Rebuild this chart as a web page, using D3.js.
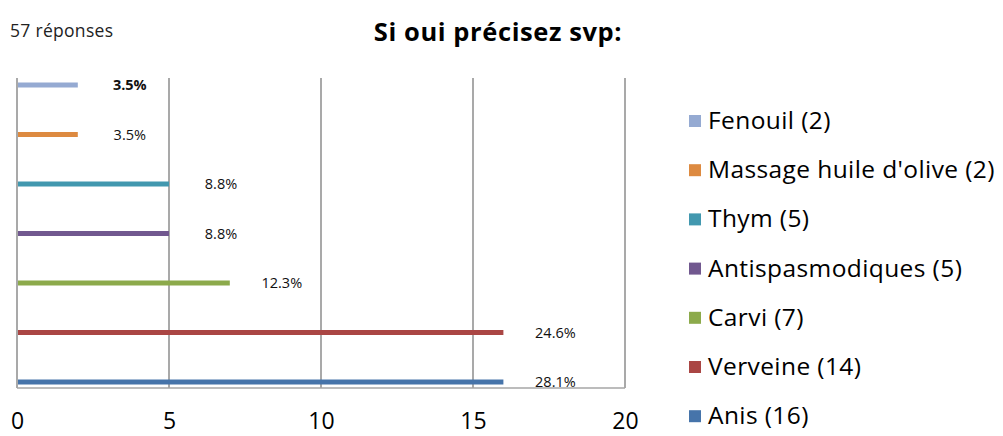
<!DOCTYPE html>
<html>
<head>
<meta charset="utf-8">
<script src="https://cdn.jsdelivr.net/npm/d3@7"></script>
<style>
	body { margin: 0; background: #fff; }
	svg { display: block; font-family: "Open Sans", Lato, sans-serif; }
</style>
</head>
<body>
<svg id="svg1" width="1003" height="436"></svg>
<script>
// categories, top to bottom
categories = ["Fenouil", "Massage huile d'olive", "Thym", "Antispasmodiques", "Carvi", "Verveine", "Anis"];
// counts shown in the legend
counts = [2, 2, 5, 5, 7, 14, 16];
// bar lengths as drawn in the picture
bar_values = [2, 2, 5, 5, 7, 16, 16];
pct_labels = ["3.5%", "3.5%", "8.8%", "8.8%", "12.3%", "24.6%", "28.1%"];
colors = ["#95AAD2", "#DD8A40", "#4298AF", "#71588F", "#8CAA4B", "#AA4644", "#4674AA"];
x_ticks = [0, 5, 10, 15, 20];

settings = {
	left : 17,
	right : 625,
	top : 78,
	bottom : 388,
	barHeight : 5
}

svg = d3.select("#svg1");

// header
svg.append("text")
	.attr("x", 10).attr("y", 37)
	.style("font-size", "17.5px")
	.style("letter-spacing", "0.3px")
	.attr("fill", "#222")
	.text("57 réponses");

svg.append("text")
	.attr("x", 498).attr("y", 41)
	.attr("text-anchor", "middle")
	.style("font-size", "25.5px")
	.style("font-weight", "bold")
	.style("letter-spacing", "0.6px")
	.attr("fill", "#000")
	.text("Si oui précisez svp:");

var x = d3.scaleLinear().domain([0, 20]).range([settings.left, settings.right]);
var y = d3.scalePoint().domain(categories).range([85, 382]);

// vertical grid lines
svg.append("g")
	.selectAll("line")
	.data(x_ticks)
	.enter().append("line")
		.attr("x1", d => x(d)).attr("x2", d => x(d))
		.attr("y1", settings.top).attr("y2", settings.bottom)
		.attr("stroke", "#8c8c8c")
		.attr("stroke-width", 1.5);

// bottom line
svg.append("line")
	.attr("x1", settings.left).attr("x2", settings.right)
	.attr("y1", settings.bottom).attr("y2", settings.bottom)
	.attr("stroke", "#a6a6a6")
	.attr("stroke-width", 1.5);

// bars
svg.append("g")
	.selectAll("rect")
	.data(categories)
	.enter().append("rect")
		.attr("x", x(0) + 1)
		.attr("y", d => y(d) - settings.barHeight / 2)
		.attr("width", (d, i) => x(bar_values[i]) - x(0) - 1)
		.attr("height", settings.barHeight)
		.attr("fill", (d, i) => colors[i]);

// value labels
svg.append("g")
	.selectAll("text")
	.data(categories)
	.enter().append("text")
		.attr("x", (d, i) => x(bar_values[i]) + 52)
		.attr("y", d => y(d) + 5)
		.attr("text-anchor", "middle")
		.style("font-size", "14.5px")
		.style("font-weight", (d, i) => i == 0 ? "bold" : "normal")
		.attr("fill", "#111")
		.text((d, i) => pct_labels[i]);

// x axis tick labels
var xAxis = svg.append("g")
	.attr("transform", "translate(0," + 429 + ")")
	.call(d3.axisBottom(x).tickValues(x_ticks).tickSize(0).tickPadding(0));
xAxis.select(".domain").remove();
xAxis.selectAll("text")
	.attr("dy", 0)
	.style("font-family", "'Open Sans', sans-serif")
	.style("font-size", "23px")
	.attr("fill", "#000");

// legend
legend = svg.append("g")
	.selectAll("g")
	.data(categories)
	.enter().append("g")
		.attr("transform", (d, i) => "translate(689," + (121 + i * 49.2) + ")");

legend.append("rect")
	.attr("x", 0).attr("y", -6)
	.attr("width", 12).attr("height", 12)
	.attr("fill", (d, i) => colors[i]);

legend.append("text")
	.attr("x", 19).attr("y", 8)
	.style("font-size", "24.5px")
	.style("letter-spacing", "0.4px")
	.attr("fill", "#000")
	.text((d, i) => d + " (" + counts[i] + ")");
</script>
</body>
</html>
